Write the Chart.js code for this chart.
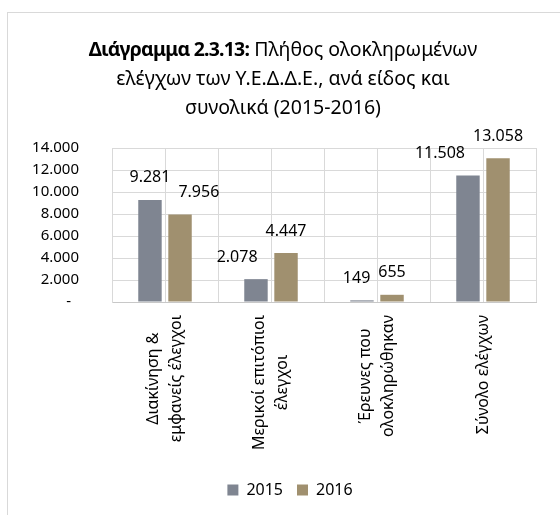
<!DOCTYPE html>
<html lang="el">
   <head>
      <meta charset="UTF-8" />
      <title>Διάγραμμα 2.3.13</title>
      <style>
         body { margin: 0; background: #fff; width: 560px; height: 515px; overflow: hidden; position: relative; font-family: "Noto Sans", sans-serif; }
         .frame { position: absolute; left: 7px; top: 12px; right: -5px; bottom: -5px; border-left: 1px solid #d9d9d9; border-top: 1px solid #d9d9d9; }
         .titulo { position: absolute; left: 0; width: 566px; top: 34px; text-align: center; font-size: 19.5px; line-height: 29px; color: #000; white-space: nowrap; }
         .titulo b { font-weight: bold; letter-spacing: -0.8px; }
         #grafico { position: absolute; left: 0; top: 0; }
      </style>
   </head>
   <body>
      <div class="frame"></div>
      <canvas id="grafico" width="560" height="515"></canvas>
      <div class="titulo">
         <b>Διάγραμμα 2.3.13:</b> Πλήθος ολοκληρωμένων<br />
         ελέγχων των Υ.Ε.Δ.Δ.Ε., ανά είδος και<br />
         συνολικά (2015-2016)
      </div>
   </body>
</html>

<script src="https://cdn.jsdelivr.net/npm/chart.js"></script>
<script>
   // κατηγορίες (γραμμές ετικέτας)
   const categorias = [
      ["Διακίνηση &", "εμφανείς έλεγχοι"],
      ["Μερικοί επιτόπιοι", "έλεγχοι"],
      ["Έρευνες που", "ολοκληρώθηκαν"],
      ["Σύνολο ελέγχων"],
   ];

   // valores por ano
   const valores_2015 = [9281, 2078, 149, 11508];
   const valores_2016 = [7956, 4447, 655, 13058];

   // eixo y
   const ticks_y = [0, 2000, 4000, 6000, 8000, 10000, 12000, 14000];

   const cor_2015 = "#7f8591";
   const cor_2016 = "#a0906f";

   // formato 9.281
   function formata(v) {
      return String(v).replace(/\B(?=(\d{3})+(?!\d))/g, ".");
   }

   // rótulos em cima das barras; o menor do par é afastado para fora
   const rotulos_plugin = {
      id: "rotulos",
      afterDatasetsDraw(chart) {
         const ctx = chart.ctx;
         ctx.save();
         ctx.font = "16px 'Noto Sans'";
         ctx.fillStyle = "#000";
         ctx.textAlign = "center";
         ctx.textBaseline = "middle";
         const m0 = chart.getDatasetMeta(0).data;
         const m1 = chart.getDatasetMeta(1).data;
         const d0 = chart.data.datasets[0].data;
         const d1 = chart.data.datasets[1].data;
         for (let j = 0; j < m0.length; j++) {
            const t0 = formata(d0[j]);
            const t1 = formata(d1[j]);
            const w0 = ctx.measureText(t0).width;
            const w1 = ctx.measureText(t1).width;
            let x0 = m0[j].x;
            let x1 = m1[j].x;
            const folga = 8;
            if (x1 - x0 < (w0 + w1) / 2 + folga) {
               if (d0[j] < d1[j]) {
                  x0 = x1 - (w0 + w1) / 2 - folga;
               } else {
                  x1 = x0 + (w0 + w1) / 2 + folga;
               }
            }
            ctx.fillText(t0, x0, m0[j].y - 22);
            ctx.fillText(t1, x1, m1[j].y - 22);
         }
         ctx.restore();
      },
   };

   // rótulos do eixo x, girados e centrados como no Excel
   const eixo_x_plugin = {
      id: "eixo_x",
      afterDraw(chart) {
         const ctx = chart.ctx;
         const escala = chart.scales.x;
         const altura_linha = 22.4;
         ctx.save();
         ctx.font = "16px 'Noto Sans'";
         ctx.fillStyle = "#000";
         ctx.textAlign = "center";
         ctx.textBaseline = "middle";
         categorias.forEach((linhas, i) => {
            const px = escala.getPixelForTick(i);
            const maior = Math.max(...linhas.map((l) => ctx.measureText(l).width));
            const cy = escala.top + 13 + maior / 2;
            linhas.forEach((linha, k) => {
               const cx = px + (k - (linhas.length - 1) / 2) * altura_linha;
               ctx.save();
               ctx.translate(cx, cy);
               ctx.rotate(-Math.PI / 2);
               ctx.fillText(linha, 0, 0);
               ctx.restore();
            });
         });
         ctx.restore();
      },
   };

   const data_barras = {
      labels: categorias.map((l) => l.join(" ")),
      datasets: [
         {
            label: "2015",
            data: valores_2015,
            backgroundColor: cor_2015,
            categoryPercentage: 0.567,
            barPercentage: 0.78,
         },
         {
            label: "2016",
            data: valores_2016,
            backgroundColor: cor_2016,
            categoryPercentage: 0.567,
            barPercentage: 0.78,
         },
      ],
   };

   const config_barras = {
      type: "bar",
      data: data_barras,
      options: {
         responsive: false,
         animation: false,
         layout: {
            padding: { top: 148, left: 20, right: 0, bottom: 7 },
         },
         plugins: {
            legend: {
               position: "bottom",
               labels: {
                  boxWidth: 11,
                  boxHeight: 11,
                  padding: 14,
                  color: "#000",
                  font: { family: "'Noto Sans'", size: 16 },
               },
            },
            tooltip: { enabled: false },
         },
         scales: {
            x: {
               offset: true,
               grid: { color: "#d9d9d9", offset: true, drawTicks: false },
               border: { color: "#c8c8c8" },
               ticks: { display: false },
               afterFit(scale) {
                  scale.height = 166;
               },
            },
            x2: {
               type: "category",
               position: "top",
               offset: true,
               grid: { color: "#d9d9d9", offset: false, drawTicks: false },
               border: { display: false },
               ticks: { display: false },
               afterFit(scale) {
                  scale.height = 0;
               },
            },
            y: {
               min: 0,
               max: 14000,
               afterBuildTicks(scale) {
                  scale.ticks = ticks_y.map((v) => ({ value: v }));
               },
               afterFit(scale) {
                  scale.width = 92;
               },
               grid: { color: "#d9d9d9", drawTicks: false },
               border: { color: "#d9d9d9" },
               ticks: {
                  padding: 33,
                  color: "#000",
                  font: { family: "'Noto Sans'", size: 15 },
                  callback: (v) => (v === 0 ? "-  " : formata(v)),
               },
            },
            // espaço vazio à direita do gráfico
            y_dir: {
               type: "linear",
               position: "right",
               grid: { display: false },
               border: { display: false },
               ticks: { display: false },
               afterFit(scale) {
                  scale.width = 24;
               },
            },
         },
      },
      plugins: [rotulos_plugin, eixo_x_plugin],
   };

   const grafico_barras = new Chart(
      document.getElementById("grafico"),
      config_barras
   );
</script>
